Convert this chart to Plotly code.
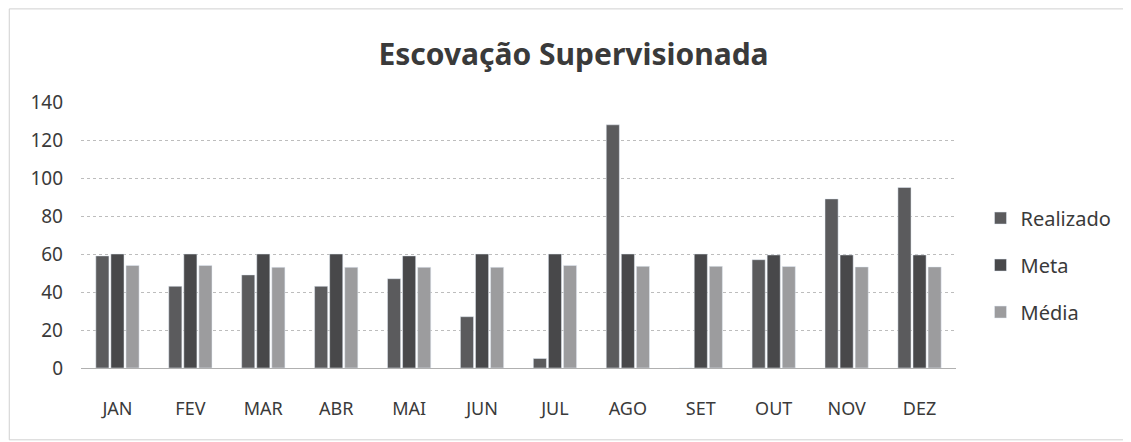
import plotly.graph_objects as go

months = ["JAN", "FEV", "MAR", "ABR", "MAI", "JUN", "JUL", "AGO", "SET", "OUT", "NOV", "DEZ"]
realizado = [59, 43, 49, 43, 47, 27, 5, 128, 0, 57, 89, 95]
meta = [60, 60, 60, 60, 59, 60, 60, 60, 60, 59.5, 59.5, 59.5]
media = [54, 54, 53, 53, 53, 53, 54, 53.5, 53.5, 53.4, 53.2, 53.2]
y_ticks = [0, 20, 40, 60, 80, 100, 120, 140]

font = "Noto Sans, Open Sans, Lato, sans-serif"

fig = go.Figure()
fig.add_bar(name="Realizado", x=months, y=realizado, marker_color="#5b5b5d", legendgroup="a")
fig.add_bar(name="Meta", x=months, y=meta, marker_color="#48484a", legendgroup="b")
fig.add_bar(name="Média", x=months, y=media, marker_color="#9c9c9e", legendgroup="c")

fig.update_layout(
    width=1131, height=442,
    paper_bgcolor="white", plot_bgcolor="white",
    margin=dict(l=73, r=183, t=94, b=82),
    barmode="group", bargap=0.38, bargroupgap=0.13,
    title=dict(text="<b>Escovação Supervisionada</b>", x=0.5, xanchor="center",
               y=0.894, yanchor="middle", font=dict(family=font, size=30, color="#3a3a3a")),
    font=dict(family=font, size=18, color="#3a3a3a"),
    legend=dict(x=1.028, y=0.387, xanchor="left", yanchor="middle",
                font=dict(size=20, color="#3a3a3a"), itemwidth=30, tracegroupgap=18,
                traceorder="grouped"),
    xaxis=dict(showgrid=False, showline=True, linecolor="#b0b0b0", linewidth=1,
               ticks="", tickfont=dict(size=18), ticklabelstandoff=24),
    yaxis=dict(range=[0, 140], tickvals=y_ticks, showgrid=True, gridcolor="#bdbdbd",
               griddash="dot", zeroline=False, showline=False, ticks="",
               tickfont=dict(size=19), ticklabelstandoff=17),
)
fig.add_shape(type="rect", xref="paper", yref="paper", x0=-0.082, x1=1.2, y0=-0.27, y1=1.35,
              line=dict(color="#d0d0d0", width=1))
fig.write_html("out.html")
